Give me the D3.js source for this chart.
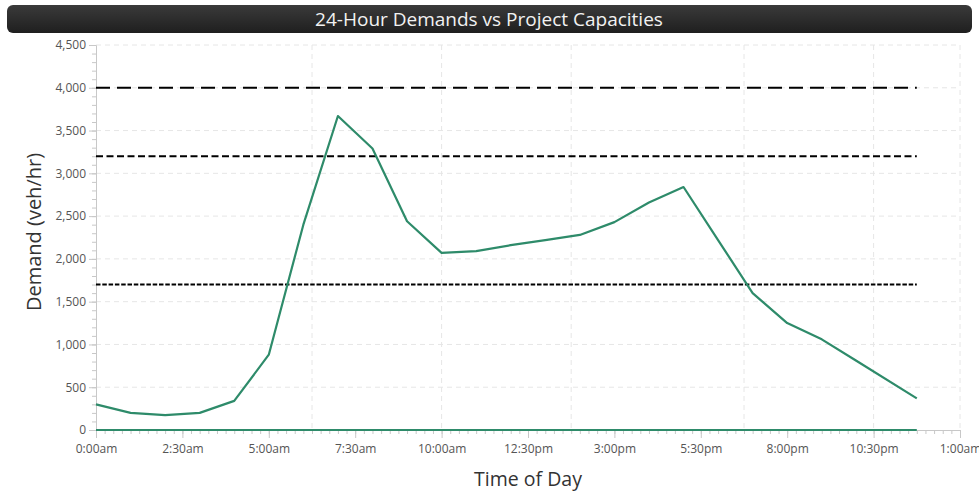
<!DOCTYPE html>
<html>
<head>
<meta charset="utf-8">
<script src="https://cdnjs.cloudflare.com/ajax/libs/d3/7.8.5/d3.min.js"></script>
<style>
body { margin: 0; background: #fff; }
svg { display: block; font-family: "Open Sans", "Noto Sans", sans-serif; }
</style>
</head>
<body>
<script>
var width = 979;
var height = 491;

// hours of day for each demand point (last one is 23:45)
var hours = [0, 1, 2, 3, 4, 5, 6, 7, 8, 9, 10, 11, 12, 13, 14, 15, 16, 17, 18, 19, 20, 21, 22, 23.75];
var demand = [300, 200, 175, 200, 340, 880, 2400, 3670, 3290, 2440, 2070, 2090, 2160, 2220, 2280, 2430, 2660, 2840, 2220, 1600, 1250, 1060, 810, 370];

var capacities = [4000, 3200, 1700];
var capDash = ["14,7", "7,3.5", "4.5,1.8"];

var xTicks = [0, 2.5, 5, 7.5, 10, 12.5, 15, 17.5, 20, 22.5, 25];
var xLabels = ["0:00am", "2:30am", "5:00am", "7:30am", "10:00am", "12:30pm", "3:00pm", "5:30pm", "8:00pm", "10:30pm", "1:00am"];
var xGrid = [6.25, 10, 13.75, 18.75, 22.5, 25];
var yTicks = [0, 500, 1000, 1500, 2000, 2500, 3000, 3500, 4000, 4500];

var plotL = 96, plotR = 960, plotT = 45, plotB = 430;

var x = d3.scaleLinear().domain([0, 25]).range([plotL, plotR]);
var y = d3.scaleLinear().domain([0, 4500]).range([plotB, plotT]);

var svg = d3.select("body").append("svg")
    .attr("width", width)
    .attr("height", height);

// title bar
var grad = svg.append("defs").append("linearGradient")
    .attr("id", "tb").attr("x1", 0).attr("y1", 0).attr("x2", 0).attr("y2", 1);
grad.append("stop").attr("offset", "0%").attr("stop-color", "#3a3a3a");
grad.append("stop").attr("offset", "100%").attr("stop-color", "#1f1f1f");

svg.append("rect")
    .attr("x", 7).attr("y", 5)
    .attr("width", 965).attr("height", 28)
    .attr("rx", 6)
    .attr("fill", "url(#tb)");

svg.append("text")
    .attr("x", 489).attr("y", 26)
    .attr("text-anchor", "middle")
    .attr("fill", "#f2f2f2")
    .style("font-size", "19px")
    .text("24-Hour Demands vs Project Capacities");

// grid
svg.append("g").selectAll("line")
    .data(yTicks.slice(1))
    .join("line")
    .attr("x1", plotL).attr("x2", plotR)
    .attr("y1", d => y(d)).attr("y2", d => y(d))
    .attr("stroke", "#e6e6e6")
    .attr("stroke-dasharray", "5,4");

svg.append("g").selectAll("line")
    .data(xGrid)
    .join("line")
    .attr("x1", d => x(d)).attr("x2", d => x(d))
    .attr("y1", plotT).attr("y2", plotB)
    .attr("stroke", "#e6e6e6")
    .attr("stroke-dasharray", "5,4");

// y axis
svg.append("g")
    .attr("transform", "translate(" + plotL + ",0)")
    .call(d3.axisLeft(y).tickValues(yTicks).tickFormat(d3.format(",")).tickSize(7).tickPadding(3));

svg.append("g")
    .attr("transform", "translate(" + plotL + ",0)")
    .call(d3.axisLeft(y).tickValues(d3.range(0, 4501, 100)).tickFormat("").tickSize(4))
    .call(g => g.select(".domain").remove());

// x axis
svg.append("g")
    .attr("transform", "translate(0," + plotB + ")")
    .call(d3.axisBottom(x).tickValues(xTicks).tickFormat((d, i) => xLabels[i]).tickSize(8).tickPadding(6));

svg.append("g")
    .attr("transform", "translate(0," + plotB + ")")
    .call(d3.axisBottom(x).tickValues(d3.range(0, 25.01, 0.25)).tickFormat("").tickSize(4))
    .call(g => g.select(".domain").remove());

svg.selectAll(".domain, .tick line").attr("stroke", "#c8c8c8");
svg.selectAll(".tick text")
    .attr("fill", "#555")
    .style("font-size", "12px")
    .style("font-family", "'Open Sans', sans-serif");

// capacity lines
svg.append("g").selectAll("line")
    .data(capacities)
    .join("line")
    .attr("x1", x(0)).attr("x2", x(hours[hours.length - 1]))
    .attr("y1", d => y(d)).attr("y2", d => y(d))
    .attr("stroke", "#000")
    .attr("stroke-width", 2)
    .attr("stroke-dasharray", (d, i) => capDash[i]);

// zero baseline of the series
svg.append("line")
    .attr("x1", x(0)).attr("x2", x(hours[hours.length - 1]))
    .attr("y1", y(0)).attr("y2", y(0))
    .attr("stroke", "#2e8b6a")
    .attr("stroke-width", 2);

// demand line
var line = d3.line()
    .x((d, i) => x(hours[i]))
    .y(d => y(d));

svg.append("path")
    .datum(demand)
    .attr("d", line)
    .attr("fill", "none")
    .attr("stroke", "#2e8b6a")
    .attr("stroke-width", 2.2)
    .attr("stroke-linejoin", "round");

// axis titles
svg.append("text")
    .attr("transform", "translate(41,232) rotate(-90)")
    .attr("text-anchor", "middle")
    .attr("fill", "#333")
    .style("font-size", "20px")
    .text("Demand (veh/hr)");

svg.append("text")
    .attr("x", 528).attr("y", 486)
    .attr("text-anchor", "middle")
    .attr("fill", "#333")
    .style("font-size", "19.5px")
    .text("Time of Day");
</script>
</body>
</html>
